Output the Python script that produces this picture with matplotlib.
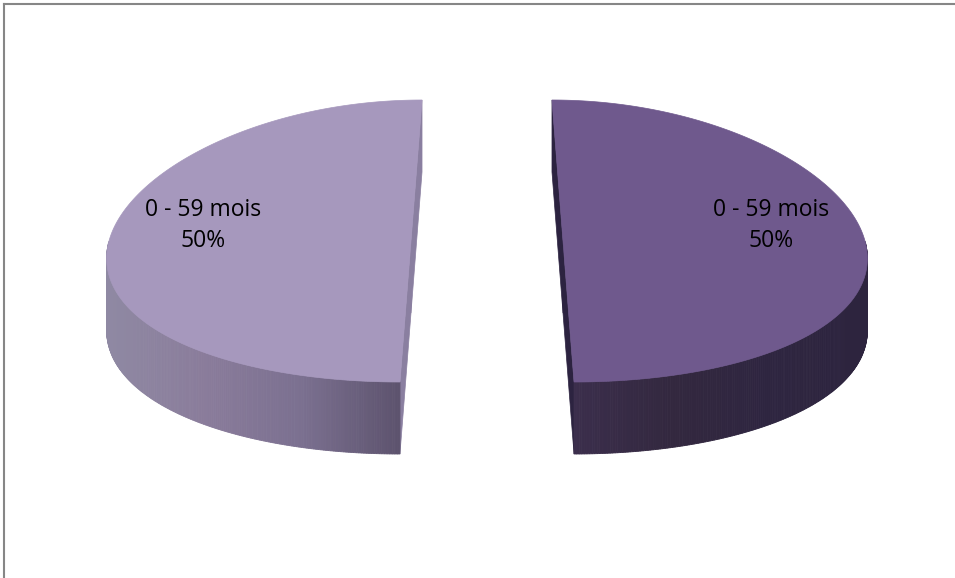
import numpy as np
import matplotlib.pyplot as plt
from matplotlib.patches import Polygon
from matplotlib.lines import Line2D
from matplotlib.colors import LinearSegmentedColormap

# data
LABELS = ["0 - 59 mois", "0 - 59 mois"]
VALUES = [50, 50]

TOP_COLORS = ["#A698BD", "#6F598D"]
CUT_COLORS = ["#8A7FA0", "#2C2340"]
WALL_STOPS = [
    ["#8F89A3", "#8A7C9B", "#7B7090", "#5D536E"],   # left slice, by x left->right
    ["#3B2E4C", "#33283F", "#2E2540", "#2D243E"],   # right slice
]

# layout (pixels)
W, H = 955, 578
CX, CY = 487, 241          # pie centre (before explode)
R, RY = 302, 141           # radius (x, px) and half-height of top ellipse
DEPTH = 72
EXPLODE = 76               # px offset of each slice along its mid angle
P_CUT = 0.145              # perspective on the explode offset
P_RIM = 0.09               # perspective on the rim
START = 90.0               # degrees, counter-clockwise


def proj(Xc, th):
    z = -np.sin(th)                      # +1 = front, -1 = back
    x = CX + Xc * (1 + P_CUT * z) + R * np.cos(th) * (1 + P_RIM * z)
    y = CY + RY * z
    return x, y


fig = plt.figure(figsize=(W / 100, H / 100), dpi=100)
ax = fig.add_axes([0, 0, 1, 1])
ax.set_xlim(0, W)
ax.set_ylim(H, 0)
ax.axis("off")

total = float(sum(VALUES))
edges = START + np.concatenate([[0], np.cumsum(VALUES)]) / total * 360.0

for i, (lab, val) in enumerate(zip(LABELS, VALUES)):
    t0, t1 = np.radians(edges[i]), np.radians(edges[i + 1])
    mid = 0.5 * (t0 + t1)
    Xc = EXPLODE * np.cos(mid)
    ctr = (CX + Xc, CY)

    # cut faces (radial planes through the centre)
    for t in (t0, t1):
        x, y = proj(Xc, t)
        xo, yo = ctr
        ax.add_patch(Polygon([(x, y), (xo, yo), (xo, yo + DEPTH), (x, y + DEPTH)],
                             closed=True, fc=CUT_COLORS[i], ec=CUT_COLORS[i], lw=0.5, zorder=1))

    # outer wall, only the front part is visible
    ths = np.linspace(t0, t1, 400)
    ths = ths[np.sin(ths) <= 0.0]
    if len(ths) > 1:
        xs, ys = proj(Xc, ths)
        cmap = LinearSegmentedColormap.from_list(f"w{i}", WALL_STOPS[i])
        xmin, xmax = xs.min(), xs.max()
        for k in range(len(ths) - 1):
            c = cmap((0.5 * (xs[k] + xs[k + 1]) - xmin) / (xmax - xmin))
            quad = [(xs[k], ys[k]), (xs[k + 1], ys[k + 1]),
                    (xs[k + 1], ys[k + 1] + DEPTH), (xs[k], ys[k] + DEPTH)]
            ax.add_patch(Polygon(quad, closed=True, fc=c, ec=c, lw=0.6, zorder=2))

    # top face
    ths = np.linspace(t0, t1, 400)
    xs, ys = proj(Xc, ths)
    pts = [ctr] + list(zip(xs, ys))
    ax.add_patch(Polygon(pts, closed=True, fc=TOP_COLORS[i], ec=TOP_COLORS[i], lw=0.5, zorder=3))

    # label
    lz = -0.11
    lx = CX + Xc * (1 + P_CUT * lz) + 0.70 * R * np.cos(mid) * (1 + P_RIM * lz)
    ly = CY + RY * lz
    ax.text(lx, ly, f"{lab}\n{val / total:.0%}", ha="center", va="center",
            fontsize=16.5, family="Open Sans", color="black", linespacing=1.42, zorder=4)

# chart area border (cropped on right/bottom)
fig.add_artist(Line2D([4 / W, 4 / W], [0, 1 - 4 / H], transform=fig.transFigure,
                      color="#868686", lw=1.5))
fig.add_artist(Line2D([4 / W, 1], [1 - 4 / H, 1 - 4 / H], transform=fig.transFigure,
                      color="#868686", lw=1.5))

fig.savefig("out.png", dpi=100)
